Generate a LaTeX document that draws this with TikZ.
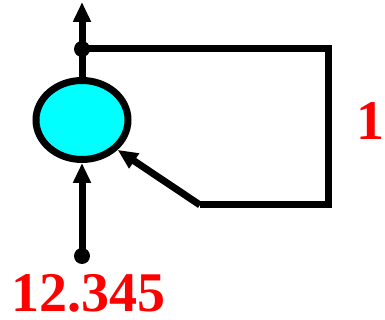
\documentclass[tikz,border=0pt]{standalone}
\usepackage{fontspec}
\setmainfont{Liberation Serif}
\usetikzlibrary{arrows.meta,shapes.geometric}
\definecolor{cyanfill}{RGB}{0,255,255}
\definecolor{redtxt}{RGB}{255,0,0}
\begin{document}
\begin{tikzpicture}[x=1pt,y=1pt,
  wire/.style={line width=7pt},
  arr/.style={wire,-{Triangle[length=20pt,width=17pt]}},
  lbl/.style={text=redtxt,font=\bfseries\fontsize{56}{60}\selectfont,inner sep=0pt,text depth=0pt,anchor=base},
  dot/.style={circle,fill=black,inner sep=0pt,minimum size=16pt}]
\useasboundingbox (0,0) rectangle (385,320);
\node[ellipse,draw,line width=7pt,fill=cyanfill,minimum width=92pt,minimum height=79pt,inner sep=0pt] (e) at (82,200) {};
\node[dot] (top) at (82,271) {};
\node[dot] (bot) at (82,64) {};
\coordinate (up) at (82,318);
\coordinate (c1) at (328,271);
\coordinate (c2) at (328,115);
\coordinate (c3) at (200,115);
\draw[arr] (e.north) -- (up);
\draw[wire] (top.center) -- (c1) -- (c2) -- (c3);
\draw[arr] (c3) -- (e.-40);
\draw[arr] (bot.center) -- (e.south);
\node[lbl] (v) at (88,8) {12.345};
\node[lbl] (g) at (370,180) {1};
\end{tikzpicture}
\end{document}
